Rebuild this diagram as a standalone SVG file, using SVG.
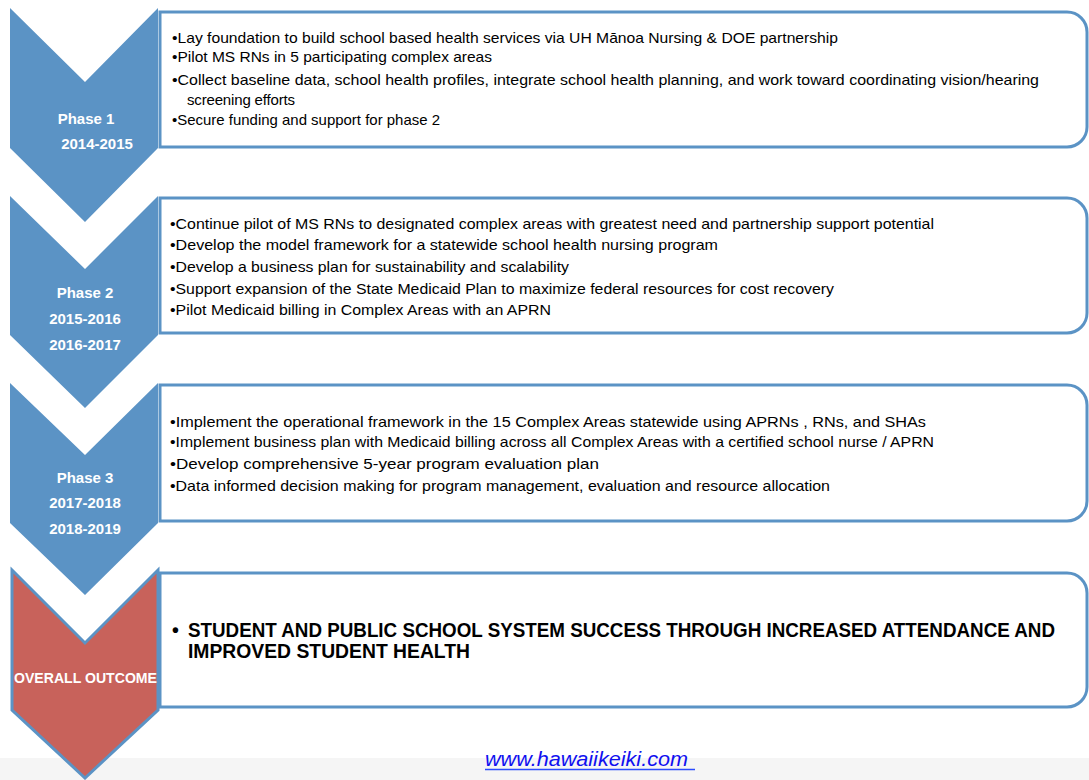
<svg xmlns="http://www.w3.org/2000/svg" width="1089" height="780" viewBox="0 0 1089 780">
<style>
.chev{fill:#5B93C5;}
.chevR{fill:#C8625B;stroke:#5B93C5;stroke-width:3;stroke-linejoin:miter;}
.box{fill:#FFFFFF;stroke:#5B93C5;stroke-width:3;}
.lbl{font-family:"Liberation Sans",Arial,sans-serif;font-weight:bold;font-size:15px;fill:#FFFFFF;text-anchor:middle;}
.t{font-family:"Liberation Sans",Arial,sans-serif;font-size:15px;fill:#000000;}
.tb{font-family:"Liberation Sans",Arial,sans-serif;font-size:19.5px;font-weight:bold;fill:#000000;}
.link{font-family:"Liberation Sans",Arial,sans-serif;font-style:italic;font-size:20px;fill:#1010F0;}
</style>
<rect x="0" y="0" width="1089" height="780" fill="#FFFFFF"/>
<rect x="0" y="758" width="1089" height="22" fill="#F5F5F5"/>

<g id="phase1">
<polygon class="chev" points="10,8 85,82 158,8 158,148 85,222 10,148"/>
<text class="lbl" x="86" y="124">Phase 1</text>
<text class="lbl" x="97" y="149">2014-2015</text>
</g>
<g id="box1">
<path class="box" d="M160,12 H1067 A20,20 0 0 1 1087,32 V127 A20,20 0 0 1 1067,147 H160 Z"/>
<text class="t" x="172" y="43" textLength="666" lengthAdjust="spacingAndGlyphs">•Lay foundation to build school based health services via UH Mānoa Nursing &amp; DOE partnership</text>
<text class="t" x="172" y="62" textLength="320" lengthAdjust="spacingAndGlyphs">•Pilot MS RNs in 5 participating complex areas</text>
<text class="t" x="172" y="85" textLength="867" lengthAdjust="spacingAndGlyphs">•Collect baseline data, school health profiles, integrate school health planning, and work toward coordinating vision/hearing</text>
<text class="t" x="187" y="105" textLength="108" lengthAdjust="spacing">screening efforts</text>
<text class="t" x="172" y="125" textLength="268" lengthAdjust="spacingAndGlyphs">•Secure funding and support for phase 2</text>
</g>

<g id="phase2">
<polygon class="chev" points="10,196 85,269 158,196 158,335 85,408 10,335"/>
<text class="lbl" x="85" y="298">Phase 2</text>
<text class="lbl" x="85" y="324">2015-2016</text>
<text class="lbl" x="85" y="350">2016-2017</text>
</g>
<g id="box2">
<path class="box" d="M160,198 H1067 A20,20 0 0 1 1087,218 V313 A20,20 0 0 1 1067,333 H160 Z"/>
<text class="t" x="170" y="229" textLength="764" lengthAdjust="spacingAndGlyphs">•Continue pilot of MS RNs to designated complex areas with greatest need and partnership support potential</text>
<text class="t" x="170" y="250" textLength="548" lengthAdjust="spacingAndGlyphs">•Develop the model framework for a statewide school health nursing program</text>
<text class="t" x="170" y="272" textLength="399" lengthAdjust="spacingAndGlyphs">•Develop a business plan for sustainability and scalability</text>
<text class="t" x="170" y="294" textLength="664" lengthAdjust="spacingAndGlyphs">•Support expansion of the State Medicaid Plan to maximize federal resources for cost recovery</text>
<text class="t" x="170" y="315" textLength="381" lengthAdjust="spacingAndGlyphs">•Pilot Medicaid billing in Complex Areas  with an APRN</text>
</g>

<g id="phase3">
<polygon class="chev" points="10,383 85,455 158,383 158,523 85,595 10,523"/>
<text class="lbl" x="85" y="483">Phase 3</text>
<text class="lbl" x="85" y="508">2017-2018</text>
<text class="lbl" x="85" y="534">2018-2019</text>
</g>
<g id="box3">
<path class="box" d="M160,385 H1067 A20,20 0 0 1 1087,405 V501 A20,20 0 0 1 1067,521 H160 Z"/>
<text class="t" x="170" y="427" textLength="756" lengthAdjust="spacingAndGlyphs">•Implement the operational framework in the 15 Complex Areas statewide using APRNs , RNs, and SHAs</text>
<text class="t" x="170" y="447" textLength="764" lengthAdjust="spacingAndGlyphs">•Implement business plan with Medicaid billing across all Complex Areas with a certified school nurse / APRN</text>
<text class="t" x="170" y="469" textLength="429" lengthAdjust="spacingAndGlyphs">•Develop comprehensive 5-year program evaluation plan</text>
<text class="t" x="170" y="491" textLength="660" lengthAdjust="spacingAndGlyphs">•Data informed decision making for program management, evaluation and resource allocation</text>
</g>

<g id="outcome">
<polygon class="chevR" points="12,570 85,643 158,570 158,710 85,778 12,710"/>
<text class="lbl" x="85.5" y="683" style="font-size:14px" textLength="143" lengthAdjust="spacingAndGlyphs">OVERALL OUTCOME</text>
</g>
<g id="box4">
<path class="box" d="M160,573 H1067 A20,20 0 0 1 1087,593 V687 A20,20 0 0 1 1067,707 H160 Z"/>
<text class="tb" x="172" y="637">•</text>
<text class="tb" x="188" y="637" textLength="867" lengthAdjust="spacingAndGlyphs">STUDENT AND PUBLIC SCHOOL SYSTEM SUCCESS THROUGH INCREASED ATTENDANCE AND</text>
<text class="tb" x="188" y="658" textLength="282" lengthAdjust="spacingAndGlyphs">IMPROVED STUDENT HEALTH</text>
</g>

<g id="connectors"></g>

<g id="footer">
<text class="link" x="485" y="766" textLength="203" lengthAdjust="spacingAndGlyphs">www.hawaiikeiki.com</text>
<line x1="485" y1="769.5" x2="695" y2="769.5" stroke="#2A4BFF" stroke-width="1.5"/>
</g>
</svg>
